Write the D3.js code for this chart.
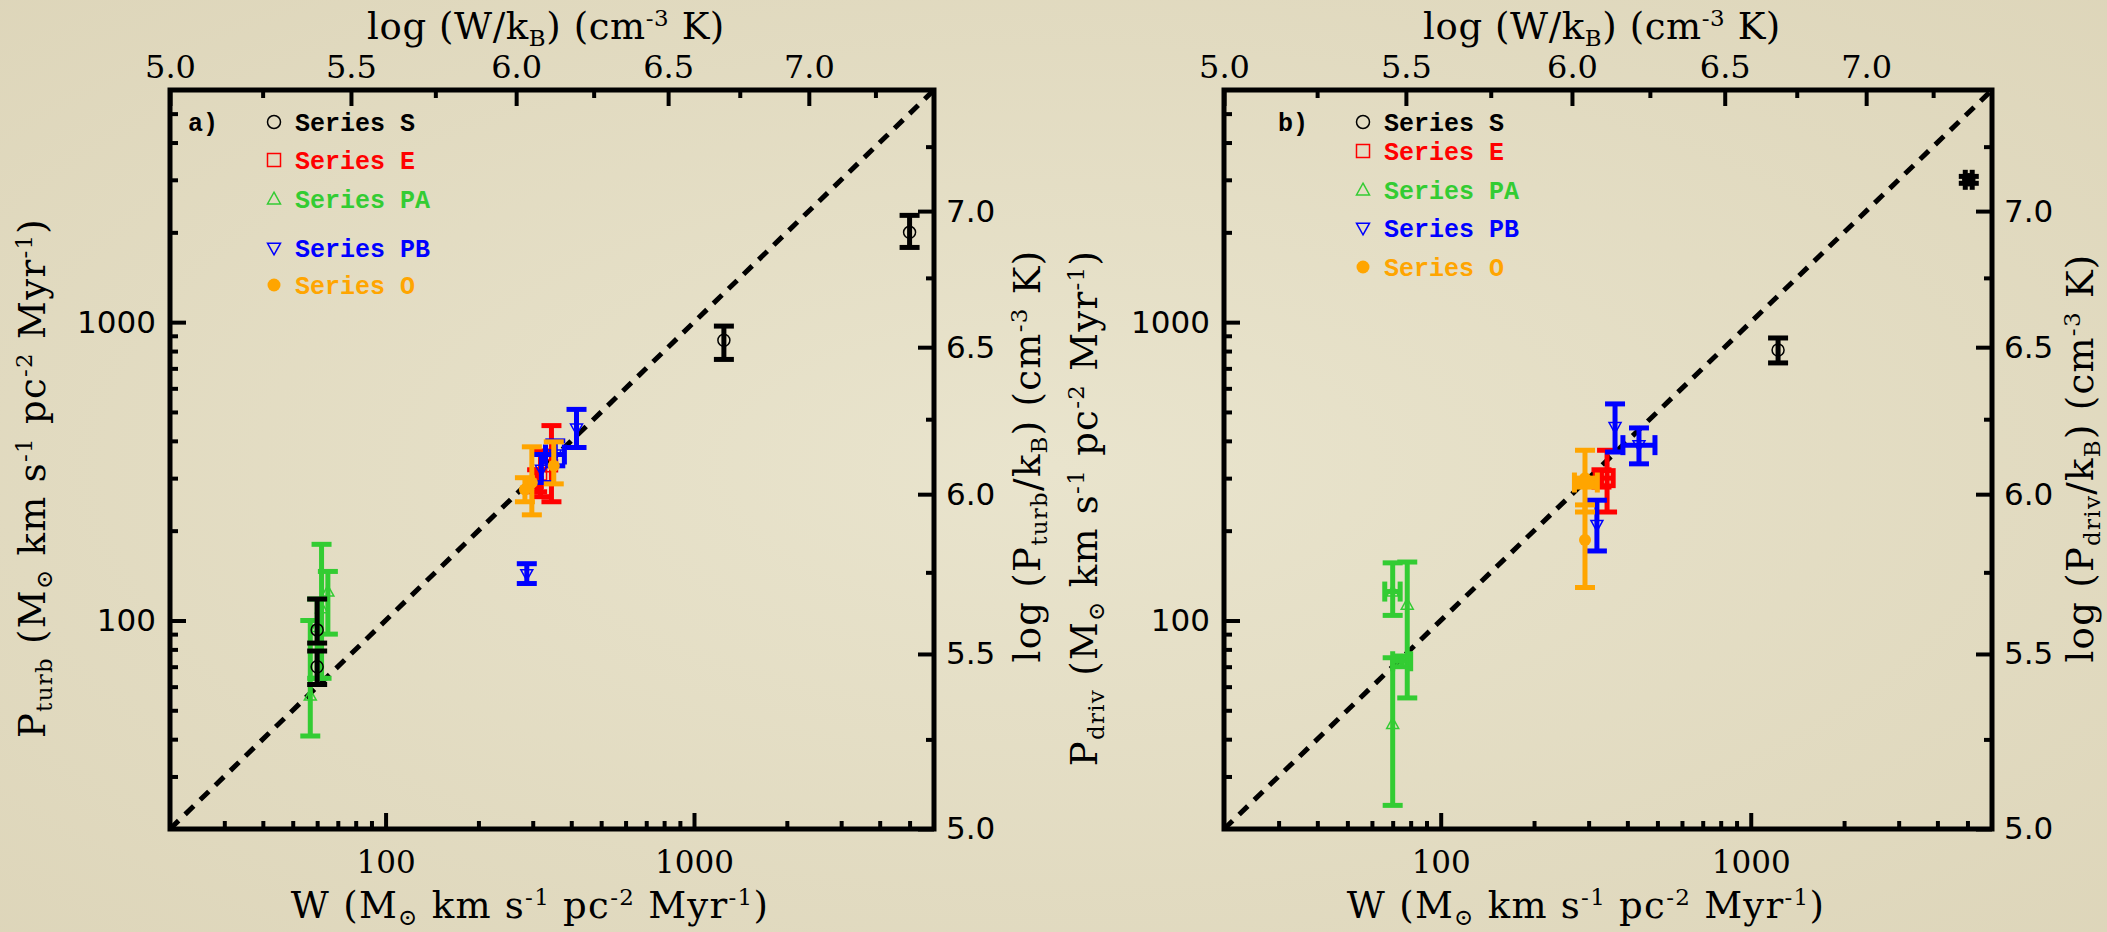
<!DOCTYPE html>
<html>
<head>
<meta charset="utf-8">
<script src="https://cdn.jsdelivr.net/npm/d3@7"></script>
<style>
  html, body { margin: 0; padding: 0; background: #e5dfc5; }
  svg { display: block; }
</style>
</head>
<body>
<div id="chart"></div>
<script>
// ===== data =====
const seriesKeys = ["S", "E", "PA", "PB", "O"];
const seriesLabels = ["Series S", "Series E", "Series PA", "Series PB", "Series O"];
const drawOrder = ["PA", "S", "E", "PB", "O"];

// point: [W, P, P_low, P_high, W_low, W_high]  (W errors optional)
const turbS  = [[60, 93, 84, 118], [60, 70, 61, 79], [1250, 870, 750, 970], [5000, 2000, 1780, 2280]];
const turbE  = [[345, 330, 250, 450], [318, 310, 260, 370], [310, 290, 270, 320]];
const turbPA = [[57, 56, 41, 100], [60, 95, 64, 118], [62, 110, 64, 180], [65, 125, 90, 146]];
const turbPB = [[416, 440, 380, 510], [355, 360, 330, 400, 330, 380], [320, 320, 290, 360], [287, 143, 133, 155]];
const turbO  = [[298, 290, 226, 382], [351, 330, 287, 397], [283, 275, 250, 301]];

const drivS  = [[5050, 3000, 2920, 3080, 4920, 5180], [1225, 807, 730, 885]];
const drivE  = [[344, 300, 231, 372], [330, 300, 280, 320, 315, 360]];
const drivPA = [[70, 125, 104, 156, 66, 74], [70, 45, 24, 75], [78, 113, 55, 157], [75, 73, 70, 76, 70, 80]];
const drivPB = [[365, 445, 367, 532], [436, 387, 335, 442, 387, 491], [319, 209, 171, 253]];
const drivO  = [[292, 300, 231, 372], [292, 290, 280, 300, 270, 320], [292, 186, 129, 244]];

const wDomain = [20, 6000];
const kbFactor = 5000;              // W -> W/kB  (cm^-3 K)
const logTicksMajor = [5.0, 5.5, 6.0, 6.5, 7.0];
const logTicksMinor = [5.25, 5.75, 6.25, 6.75, 7.25];
const wTicksMajor = [100, 1000];
const wTicksMinor = [30, 40, 50, 60, 70, 80, 90, 200, 300, 400, 500, 600, 700, 800, 900, 2000, 3000, 4000, 5000];

// ===== styles =====
const COLORS = { S: "#000000", E: "#ff0000", PA: "#33cc33", PB: "#0000ff", O: "#ffa500" };
const SERIF = "'DejaVu Serif', serif";
const SANS = "'DejaVu Sans', sans-serif";
const MONO = "'Liberation Mono', monospace";
const TITLE_SIZE = 37;

const W = 2107, H = 932;
const svg = d3.select("#chart").append("svg").attr("width", W).attr("height", H);

const defs = svg.append("defs");
const grad = defs.append("radialGradient").attr("id", "paper").attr("cx", "50%").attr("cy", "50%").attr("r", "75%");
grad.append("stop").attr("offset", "0%").attr("stop-color", "#e9e4cd");
grad.append("stop").attr("offset", "100%").attr("stop-color", "#ddd5b9");
svg.append("rect").attr("width", W).attr("height", H).attr("fill", "url(#paper)");

// text with sub/superscripts
function richText(sel, parts, size, spacing) {
  let shift = 0;
  sel.attr("letter-spacing", spacing);
  parts.forEach(p => {
    const txt = typeof p === "string" ? p : p[0];
    const kind = typeof p === "string" ? null : p[1];
    const target = kind === "sup" ? -0.36 * size : kind === "sub" ? 0.18 * size : 0;
    sel.append("tspan")
      .attr("dy", target - shift)
      .attr("font-size", kind ? size * 0.62 : size)
      .text(txt);
    shift = target;
  });
}

function symbolPath(key, size) {
  const r = size / 2;
  if (key === "E") return `M${-r},${-r}H${r}V${r}H${-r}Z`;
  if (key === "PA") return `M0,${-r * 1.05}L${r},${r * 0.75}L${-r},${r * 0.75}Z`;
  if (key === "PB") return `M0,${r * 1.05}L${r},${-r * 0.75}L${-r},${-r * 0.75}Z`;
  return d3.arc()({ innerRadius: 0, outerRadius: r, startAngle: 0, endAngle: 2 * Math.PI });
}

function drawPanel(opt) {
  const { left, right, top, bottom } = opt.box;
  const x = d3.scaleLog().domain(wDomain).range([left, right]);
  const y = d3.scaleLog().domain(wDomain).range([bottom, top]);
  const kbDomain = [Math.log10(wDomain[0] * kbFactor), Math.log10(wDomain[1] * kbFactor)];
  const xTop = d3.scaleLog().domain(kbDomain).range([left, right]);
  const yRight = d3.scaleLog().domain(kbDomain).range([bottom, top]);

  const g = svg.append("g");

  // 1:1 line
  g.append("line")
    .attr("x1", x(wDomain[0])).attr("y1", y(wDomain[0]))
    .attr("x2", x(wDomain[1])).attr("y2", y(wDomain[1]))
    .attr("stroke", "#000").attr("stroke-width", 5).attr("stroke-dasharray", "12,9");

  // axes: majors with labels, minors without
  function axis(gen, pos, major, minor, fmt, font, size, pad) {
    const a = g.append("g").attr("transform", pos);
    a.call(gen.tickValues(major).tickSize(-16).tickPadding(pad).tickFormat(fmt));
    a.select(".domain").remove();
    a.selectAll("line").attr("stroke-width", 4);
    a.selectAll("text").attr("font-family", font).attr("font-size", size).attr("fill", "#000");
    const b = g.append("g").attr("transform", pos);
    b.call(gen.tickValues(minor).tickSize(-8).tickFormat(""));
    b.select(".domain").remove();
    b.selectAll("line").attr("stroke-width", 4);
  }
  axis(d3.axisBottom(x), `translate(0,${bottom})`, wTicksMajor, wTicksMinor, d => d, SERIF, 31, 22);
  axis(d3.axisLeft(y), `translate(${left},0)`, wTicksMajor, wTicksMinor, d => d, SANS, 31, 14);
  axis(d3.axisTop(xTop), `translate(0,${top})`, logTicksMajor, logTicksMinor, d => d.toFixed(1), SERIF, 32, 12);
  axis(d3.axisRight(yRight), `translate(${right},0)`, logTicksMajor, logTicksMinor, d => d.toFixed(1), SANS, 31, 12);

  g.append("rect")
    .attr("x", left).attr("y", top).attr("width", right - left).attr("height", bottom - top)
    .attr("fill", "none").attr("stroke", "#000").attr("stroke-width", 5);

  // data points
  drawOrder.forEach(key => {
    const col = COLORS[key];
    const pts = opt.data[key];
    const sg = g.append("g");
    pts.forEach(d => {
      const cx = x(d[0]), cy = y(d[1]);
      const y1 = y(d[2]), y2 = y(d[3]);
      sg.append("line").attr("x1", cx).attr("x2", cx).attr("y1", y1).attr("y2", y2)
        .attr("stroke", col).attr("stroke-width", 5);
      [y1, y2].forEach(yy => sg.append("line").attr("x1", cx - 10).attr("x2", cx + 10)
        .attr("y1", yy).attr("y2", yy).attr("stroke", col).attr("stroke-width", 5));
      if (d.length > 4) {
        const x1 = x(d[4]), x2 = x(d[5]);
        sg.append("line").attr("x1", x1).attr("x2", x2).attr("y1", cy).attr("y2", cy)
          .attr("stroke", col).attr("stroke-width", 5);
        [x1, x2].forEach(xx => sg.append("line").attr("x1", xx).attr("x2", xx)
          .attr("y1", cy - 10).attr("y2", cy + 10).attr("stroke", col).attr("stroke-width", 5));
      }
      sg.append("path").attr("d", symbolPath(key, 12))
        .attr("transform", `translate(${cx},${cy})`)
        .attr("fill", key === "O" ? col : "none")
        .attr("stroke", col).attr("stroke-width", key === "O" ? 0 : 1.5);
    });
  });

  // legend
  g.append("text").attr("x", opt.tag.x).attr("y", 131)
    .attr("font-family", MONO).attr("font-weight", "bold").attr("font-size", 25)
    .text(opt.tag.text);
  opt.legendRows.forEach((ly, i) => {
    const key = seriesKeys[i];
    g.append("path").attr("d", symbolPath(key, 13))
      .attr("transform", `translate(${opt.legendX},${ly})`)
      .attr("fill", key === "O" ? COLORS[key] : "none")
      .attr("stroke", COLORS[key]).attr("stroke-width", key === "O" ? 0 : 1.5);
    g.append("text").attr("x", opt.legendX + 21).attr("y", ly + 9)
      .attr("font-family", MONO).attr("font-weight", "bold").attr("font-size", 25)
      .attr("fill", COLORS[key]).text(seriesLabels[i]);
  });

  // titles
  const cx = (left + right) / 2;
  richText(g.append("text").attr("x", cx - 6).attr("y", 39).attr("text-anchor", "middle")
    .attr("font-family", SERIF).attr("fill", "#000"),
    ["log (W/k", ["B", "sub"], ") (cm", ["-3", "sup"], " K)"], TITLE_SIZE, 0.6);
  richText(g.append("text").attr("x", cx - 22).attr("y", 918).attr("text-anchor", "middle")
    .attr("font-family", SERIF).attr("fill", "#000"),
    ["W (M", ["⊙", "sub"], " km s", ["-1", "sup"], " pc", ["-2", "sup"], " Myr", ["-1", "sup"], ")"], TITLE_SIZE, 1.3);
  richText(g.append("text")
    .attr("transform", `translate(${opt.leftTitle.x},${opt.leftTitle.y}) rotate(-90)`)
    .attr("text-anchor", "middle").attr("font-family", SERIF).attr("fill", "#000"),
    ["P", [opt.sub, "sub"], " (M", ["⊙", "sub"], " km s", ["-1", "sup"], " pc", ["-2", "sup"], " Myr", ["-1", "sup"], ")"], TITLE_SIZE, 1.3);
  richText(g.append("text")
    .attr("transform", `translate(${opt.rightTitle.x},${opt.rightTitle.y}) rotate(-90)`)
    .attr("text-anchor", "middle").attr("font-family", SERIF).attr("fill", "#000"),
    ["log (P", [opt.sub, "sub"], "/k", ["B", "sub"], ") (cm", ["-3", "sup"], " K)"], TITLE_SIZE, 1.3);
}

drawPanel({
  box: { left: 170, right: 934, top: 90, bottom: 829 },
  data: { S: turbS, E: turbE, PA: turbPA, PB: turbPB, O: turbO },
  sub: "turb",
  tag: { x: 188, text: "a)" },
  legendX: 274,
  legendRows: [122, 160, 199, 248, 285],
  leftTitle: { x: 45, y: 478 },
  rightTitle: { x: 1040, y: 456 }
});

drawPanel({
  box: { left: 1224, right: 1992, top: 90, bottom: 829 },
  data: { S: drivS, E: drivE, PA: drivPA, PB: drivPB, O: drivO },
  sub: "driv",
  tag: { x: 1278, text: "b)" },
  legendX: 1363,
  legendRows: [122, 151, 190, 228, 267],
  leftTitle: { x: 1097, y: 508 },
  rightTitle: { x: 2093, y: 458 }
});
</script>
</body>
</html>
